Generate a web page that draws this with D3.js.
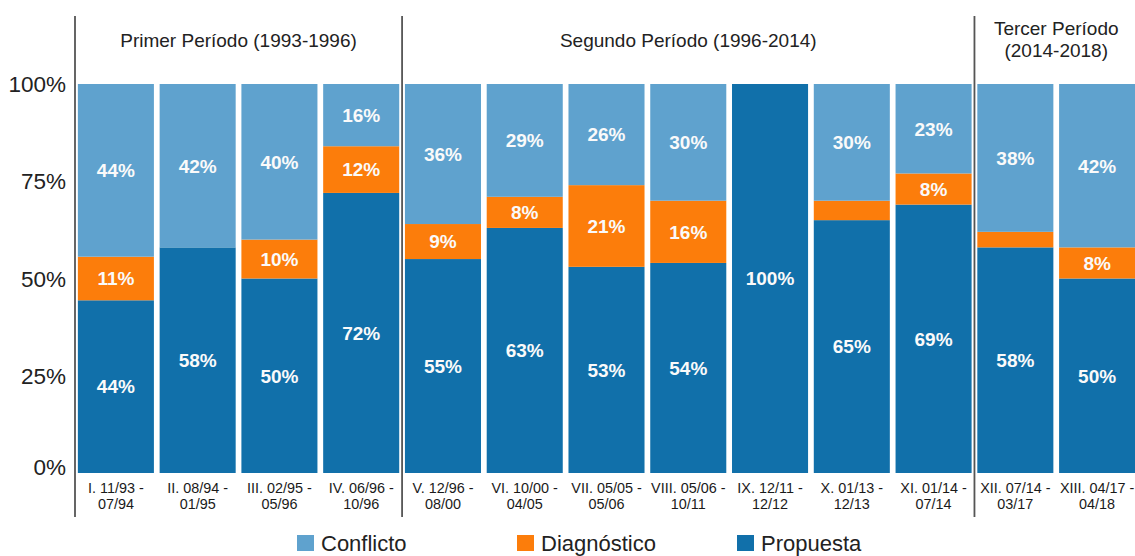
<!DOCTYPE html>
<html>
<head>
<meta charset="utf-8">
<script src="https://cdn.jsdelivr.net/npm/d3@7"></script>
<style>
  body { margin: 0; background: #fff; }
  svg { font-family: "Liberation Sans", Arial, sans-serif; }
</style>
</head>
<body>
<div id="chart"></div>
<script>
// Rounds (x axis categories), two text lines each
var rounds = ["I", "II", "III", "IV", "V", "VI", "VII", "VIII", "IX", "X", "XI", "XII", "XIII"];
var line1 = ["I. 11/93 -", "II. 08/94 -", "III. 02/95 -", "IV. 06/96 -", "V. 12/96 -", "VI. 10/00 -",
             "VII. 05/05 -", "VIII. 05/06 -", "IX. 12/11 -", "X. 01/13 -", "XI. 01/14 -", "XII. 07/14 -", "XIII. 04/17 -"];
var line2 = ["07/94", "01/95", "05/96", "10/96", "08/00", "04/05",
             "05/06", "10/11", "12/12", "12/13", "07/14", "03/17", "04/18"];

// Series values (%)
var propuesta   = [44.4, 58, 50, 72, 55, 63, 53, 54, 100, 65, 69, 58, 50];
var diagnostico = [11.2, 0, 10, 12, 9, 8, 21, 16, 0, 5, 8, 4, 8];
var conflicto   = [44.4, 42, 40, 16, 36, 29, 26, 30, 0, 30, 23, 38, 42];

var seriesNames = ["Propuesta", "Diagnóstico", "Conflicto"];
var legendOrder = ["Conflicto", "Diagnóstico", "Propuesta"];
var yTicks = [0, 25, 50, 75, 100];

// Periods
var periodNames = [["Primer Período (1993-1996)"], ["Segundo Período (1996-2014)"], ["Tercer Período", "(2014-2018)"]];
var periodFirst = ["I", "V", "XII"];
var periodLast  = ["IV", "XI", "XIII"];

var colors = {"Conflicto": "#5fa2ce", "Diagnóstico": "#fc7d0b", "Propuesta": "#1170aa"};

var W = 1135, H = 556;
var svg = d3.select("#chart").append("svg")
    .attr("width", W).attr("height", H);

var x = d3.scaleBand()
    .domain(rounds)
    .range([75, 1138])
    .paddingInner(0.07)
    .paddingOuter(0.035);

var y = d3.scaleLinear()
    .domain([0, 100])
    .range([473, 84]);

var table = rounds.map(function(r, i) {
  return {round: r, "Propuesta": propuesta[i], "Diagnóstico": diagnostico[i], "Conflicto": conflicto[i]};
});

var layers = d3.stack().keys(seriesNames)(table);

var g = svg.append("g");
layers.forEach(function(layer) {
  var key = layer.key;
  g.selectAll(".bar-" + key)
    .data(layer)
    .enter()
    .append("rect")
    .attr("x", function(d) { return x(d.data.round); })
    .attr("y", function(d) { return y(d[1]); })
    .attr("width", x.bandwidth())
    .attr("height", function(d) { return y(d[0]) - y(d[1]); })
    .attr("fill", colors[key]);

  // only segments big enough get a label
  g.selectAll(".lbl-" + key)
    .data(layer.filter(function(d) { return d.data[key] >= 7.5; }))
    .enter()
    .append("text")
    .attr("x", function(d) { return x(d.data.round) + x.bandwidth() / 2; })
    .attr("y", function(d) { return (y(d[0]) + y(d[1])) / 2; })
    .attr("dy", "0.36em")
    .attr("text-anchor", "middle")
    .style("font-size", "19px")
    .style("font-weight", "bold")
    .style("fill", "#fafafa")
    .text(function(d) { return Math.round(d.data[key]) + "%"; });
});

// Y axis labels
svg.append("g").selectAll("text")
  .data(yTicks)
  .enter()
  .append("text")
  .attr("x", 66)
  .attr("y", function(d) { return y(d); })
  .attr("dy", d => d === 0 ? "0.1em" : "0.36em")
  .attr("text-anchor", "end")
  .style("font-size", "22.5px")
  .style("fill", "#222")
  .text(function(d) { return d + "%"; });

// X axis labels
var xl = svg.append("g").selectAll("text")
  .data(rounds)
  .enter()
  .append("text")
  .attr("text-anchor", "middle")
  .style("font-size", "14.4px")
  .style("fill", "#1a1a1a");
xl.append("tspan")
  .attr("x", d => x(d) + x.bandwidth() / 2)
  .attr("y", 493)
  .text((d, i) => line1[i]);
xl.append("tspan")
  .attr("x", d => x(d) + x.bandwidth() / 2)
  .attr("y", 509)
  .text((d, i) => line2[i]);

// Period dividers and titles
var gap = x.step() - x.bandwidth();
var dividers = periodFirst.map(function(r) { return x(r) - gap / 2; });
svg.append("g").selectAll("line")
  .data(dividers)
  .enter()
  .append("line")
  .attr("x1", d => d).attr("x2", d => d)
  .attr("y1", 16).attr("y2", 517)
  .style("stroke", "#555")
  .style("stroke-width", 1.8);

periodNames.forEach(function(lines, i) {
  var cx = (x(periodFirst[i]) + x(periodLast[i]) + x.bandwidth()) / 2;
  var t = svg.append("text")
    .attr("text-anchor", "middle")
    .style("font-size", "19px")
    .style("fill", "#222");
  var y0 = lines.length === 1 ? 47 : 35;
  lines.forEach(function(s, j) {
    t.append("tspan").attr("x", cx).attr("y", y0 + j * 22).text(s);
  });
});

// Legend
var legendX = [297, 517, 737];
var lg = svg.append("g").selectAll("g")
  .data(legendOrder)
  .enter()
  .append("g")
  .attr("transform", (d, i) => "translate(" + legendX[i] + ",535)");
lg.append("rect")
  .attr("width", 17).attr("height", 16)
  .attr("fill", d => colors[d]);
lg.append("text")
  .attr("x", 24).attr("y", 16)
  .style("font-size", "22px")
  .style("fill", "#222")
  .text(d => d);
</script>
</body>
</html>
